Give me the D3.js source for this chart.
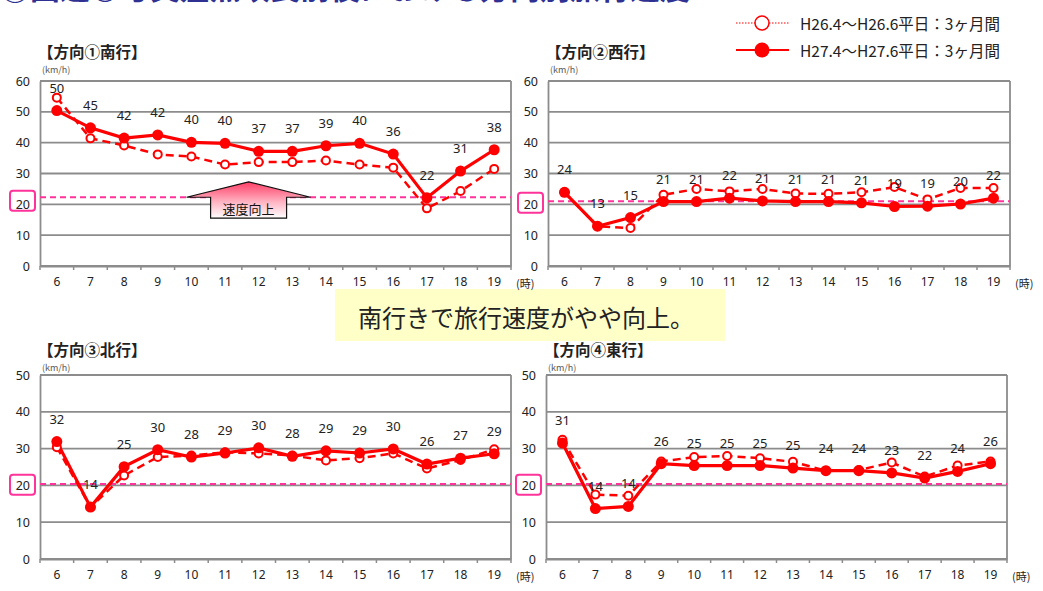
<!DOCTYPE html>
<html>
<head>
<meta charset="utf-8">
<script src="https://cdn.jsdelivr.net/npm/d3@7"></script>
<style>
  body { margin: 0; background: #fff; }
  text { font-family: "Noto Sans CJK JP", "Noto Sans", sans-serif; }
</style>
</head>
<body>
<script>
// Hours on the x axis
const hours = [6, 7, 8, 9, 10, 11, 12, 13, 14, 15, 16, 17, 18, 19];

// Direction 1 (south)
const southOld = [54.6, 41.4, 39.1, 36.2, 35.5, 32.9, 33.7, 33.7, 34.2, 32.9, 31.9, 18.7, 24.3, 31.5];
const southNew = [50.4, 44.8, 41.5, 42.5, 40.1, 39.8, 37.2, 37.2, 39.0, 39.8, 36.3, 22.1, 30.8, 37.7];
const southLabels = [50, 45, 42, 42, 40, 40, 37, 37, 39, 40, 36, 22, 31, 38];

// Direction 2 (west)
const westOld = [23.9, 12.9, 12.3, 23.1, 25.0, 24.2, 25.0, 23.5, 23.4, 23.9, 25.6, 21.6, 25.3, 25.3];
const westNew = [23.9, 12.9, 15.7, 20.9, 20.9, 22.0, 21.1, 20.9, 20.9, 20.5, 19.3, 19.4, 20.1, 22.0];
const westLabels = [24, 13, 15, 21, 21, 22, 21, 21, 21, 21, 19, 19, 20, 22];

// Direction 3 (north)
const northOld = [30.4, 14.1, 22.7, 27.7, 28.1, 29.0, 28.7, 28.1, 26.8, 27.4, 28.7, 24.6, 26.9, 29.8];
const northNew = [31.9, 14.1, 25.1, 29.7, 27.7, 28.8, 30.2, 27.9, 29.4, 28.8, 29.9, 25.8, 27.4, 28.6];
const northLabels = [32, 14, 25, 30, 28, 29, 30, 28, 29, 29, 30, 26, 27, 29];

// Direction 4 (east)
const eastOld = [32.4, 17.5, 17.2, 26.5, 27.7, 28.0, 27.4, 26.4, 24.0, 24.2, 26.2, 22.4, 25.4, 26.5];
const eastNew = [31.5, 13.7, 14.3, 25.9, 25.4, 25.4, 25.4, 24.7, 24.0, 24.0, 23.4, 22.0, 23.8, 25.9];
const eastLabels = [31, 14, 14, 26, 25, 25, 25, 25, 24, 24, 23, 22, 24, 26];

// Pink reference line level per panel, as drawn
const refLevels = [22.3, 21, 20.4, 20.4];

const legendNames = ["H26.4～H26.6平日：3ヶ月間", "H27.4～H27.6平日：3ヶ月間"];
const panelTitles = ["【方向①南行】", "【方向②西行】", "【方向③北行】", "【方向④東行】"];

const red = "#ff0000";
const pink = "#ff3399";
const grid = "#8c8c8c";

const svg = d3.select("body").append("svg")
    .attr("width", 1043)
    .attr("height", 591);

const defs = svg.append("defs");
const grad = defs.append("linearGradient")
    .attr("id", "arrowGrad")
    .attr("x1", 0).attr("y1", 0).attr("x2", 0).attr("y2", 1);
grad.append("stop").attr("offset", "0%").attr("stop-color", "#ff3d66");
grad.append("stop").attr("offset", "55%").attr("stop-color", "#ffb3c2");
grad.append("stop").attr("offset", "100%").attr("stop-color", "#ffffff");

// Page heading, cut off at the top edge of the picture
svg.append("text")
    .attr("x", 0)
    .attr("y", -1)
    .attr("font-size", 30)
    .attr("font-weight", "bold")
    .attr("fill", "#2e3192")
    .text("①国道○号交差点改良前後における方向別旅行速度");

// Legend
const legend = svg.append("g");
legend.append("line")
    .attr("x1", 736).attr("x2", 789).attr("y1", 23).attr("y2", 23)
    .attr("stroke", red).attr("stroke-width", 1).attr("stroke-dasharray", "1.5,1.5");
legend.append("circle")
    .attr("cx", 762).attr("cy", 23).attr("r", 7)
    .attr("fill", "#fff").attr("stroke", red).attr("stroke-width", 1.5);
legend.append("line")
    .attr("x1", 736).attr("x2", 789).attr("y1", 50).attr("y2", 50)
    .attr("stroke", red).attr("stroke-width", 2);
legend.append("circle")
    .attr("cx", 762).attr("cy", 50).attr("r", 7.5)
    .attr("fill", red);
legend.selectAll("text.leg")
    .data(legendNames)
    .join("text")
    .attr("class", "leg")
    .attr("x", 800)
    .attr("y", (d, i) => i === 0 ? 23 : 50)
    .attr("dominant-baseline", "central")
    .attr("font-size", 15.5)
    .attr("fill", "#222")
    .text(d => d);

// Yellow comment box in the middle
svg.append("rect")
    .attr("x", 335).attr("y", 289).attr("width", 390).attr("height", 52)
    .attr("fill", "#ffffc8");
svg.append("text")
    .attr("x", 526).attr("y", 316)
    .attr("text-anchor", "middle")
    .attr("dominant-baseline", "central")
    .attr("font-size", 24)
    .attr("fill", "#222")
    .text("南行きで旅行速度がやや向上。");

function drawPanel(p) {
    const g = svg.append("g");

    const xScale = d3.scaleBand()
        .domain(hours)
        .range([p.left, p.right]);
    const yScale = d3.scaleLinear()
        .domain([0, p.max])
        .range([p.bottom, p.top]);
    const cx = d => xScale(d) + xScale.bandwidth() / 2;
    const yTicks = d3.range(0, p.max + 1, 10);

    // title + unit
    g.append("text")
        .attr("x", p.left - 2).attr("y", p.top - p.titleGap)
        .attr("font-size", 15.5).attr("font-weight", "bold").attr("fill", "#222")
        .text(p.title);
    g.append("text")
        .attr("x", p.left + 2).attr("y", p.top - p.titleGap + 15)
        .attr("font-size", 9).attr("fill", "#555")
        .text("(km/h)");

    // gridlines
    g.selectAll("line.grid")
        .data(yTicks)
        .join("line")
        .attr("class", "grid")
        .attr("x1", p.left).attr("x2", p.right)
        .attr("y1", d => yScale(d)).attr("y2", d => yScale(d))
        .attr("stroke", grid).attr("stroke-width", 1.8);
    g.append("line")
        .attr("x1", p.right).attr("x2", p.right)
        .attr("y1", p.top).attr("y2", p.bottom)
        .attr("stroke", grid).attr("stroke-width", 1.8);

    // y axis
    const yAxis = g.append("g")
        .attr("transform", `translate(${p.left},0)`)
        .call(d3.axisLeft(yScale).tickValues(yTicks).tickSize(0).tickPadding(10));
    yAxis.select(".domain").attr("stroke", grid).attr("stroke-width", 1.8);
    yAxis.selectAll("text")
        .attr("font-size", 12.5).attr("fill", "#222")
        .style("font-family", "'Noto Sans', sans-serif");

    // x axis, ticks between categories
    const xAxis = g.append("g")
        .attr("transform", `translate(0,${p.bottom})`)
        .call(d3.axisBottom(xScale).tickSize(0).tickPadding(11));
    xAxis.select(".domain").attr("stroke", grid).attr("stroke-width", 1.8);
    xAxis.selectAll("text")
        .attr("font-size", 12).attr("fill", "#222")
        .style("font-family", "'Noto Sans', sans-serif");
    g.selectAll("line.xtick")
        .data(hours.concat([null]))
        .join("line")
        .attr("class", "xtick")
        .attr("x1", d => d === null ? p.right : xScale(d))
        .attr("x2", d => d === null ? p.right : xScale(d))
        .attr("y1", p.bottom).attr("y2", p.bottom + 4)
        .attr("stroke", grid).attr("stroke-width", 1.5);
    g.append("text")
        .attr("x", p.right + 5).attr("y", p.bottom + 22)
        .attr("font-size", 11).attr("fill", "#222")
        .text("(時)");

    // pink reference line + box around "20"
    g.append("line")
        .attr("x1", p.left).attr("x2", p.right)
        .attr("y1", yScale(p.ref)).attr("y2", yScale(p.ref))
        .attr("stroke", pink).attr("stroke-width", 2).attr("stroke-dasharray", "6,4");
    const boxMid = (yScale(p.ref) + yScale(20)) / 2;
    g.append("rect")
        .attr("x", p.left - 30).attr("y", boxMid - 10)
        .attr("width", 25).attr("height", 20).attr("rx", 3)
        .attr("fill", "none").attr("stroke", pink).attr("stroke-width", 2);

    if (p.arrow) {
        const ax = xScale(12) + xScale.bandwidth() * 0.2;
        const yb = yScale(p.ref), ya = yScale(27.3), ys = yScale(15.5);
        const pts = [[ax, ya], [ax + 62, yb], [ax + 38, yb], [ax + 38, ys],
                     [ax - 38, ys], [ax - 38, yb], [ax - 62, yb]];
        g.append("path")
            .attr("d", "M" + pts.join("L") + "Z")
            .attr("fill", "url(#arrowGrad)")
            .attr("stroke", "#111").attr("stroke-width", 1.2);
        g.append("text")
            .attr("x", ax).attr("y", (yb + ys) / 2 + 1)
            .attr("text-anchor", "middle").attr("dominant-baseline", "central")
            .attr("font-size", 13).attr("fill", "#111")
            .text("速度向上");
    }

    // last year: dashed with open circles
    const speedLine = d3.line().x((d, i) => cx(hours[i])).y(d => yScale(d));
    g.append("path")
        .datum(p.old)
        .attr("fill", "none")
        .attr("stroke", red).attr("stroke-width", 2.5)
        .attr("stroke-dasharray", "8,5")
        .attr("d", speedLine);

    // this year: solid with filled dots
    g.append("path")
        .datum(p.now)
        .attr("fill", "none")
        .attr("stroke", red).attr("stroke-width", 3.2)
        .attr("d", speedLine);

    g.selectAll("circle.old")
        .data(p.old)
        .join("circle")
        .attr("class", "old")
        .attr("cx", (d, i) => cx(hours[i]))
        .attr("cy", d => yScale(d))
        .attr("r", 4)
        .attr("fill", "#fff").attr("stroke", red).attr("stroke-width", 2);

    g.selectAll("circle.now")
        .data(p.now)
        .join("circle")
        .attr("class", "now")
        .attr("cx", (d, i) => cx(hours[i]))
        .attr("cy", d => yScale(d))
        .attr("r", 5.5)
        .attr("fill", red);

    g.selectAll("text.lab")
        .data(p.labels)
        .join("text")
        .attr("class", "lab")
        .attr("x", (d, i) => cx(hours[i]))
        .attr("y", (d, i) => yScale(p.now[i]) - 23)
        .attr("text-anchor", "middle")
        .attr("dominant-baseline", "central")
        .attr("font-size", 13).attr("fill", "#222")
        .style("font-family", "'Noto Sans', sans-serif")
        .text(d => d);
}

drawPanel({title: panelTitles[0], left: 40, right: 511, top: 81, bottom: 266, max: 60, titleGap: 23,
           old: southOld, now: southNew, labels: southLabels, ref: refLevels[0], arrow: true});
drawPanel({title: panelTitles[1], left: 548, right: 1010, top: 81, bottom: 266, max: 60, titleGap: 23,
           old: westOld, now: westNew, labels: westLabels, ref: refLevels[1]});
drawPanel({title: panelTitles[2], left: 40, right: 511, top: 375, bottom: 559, max: 50, titleGap: 19,
           old: northOld, now: northNew, labels: northLabels, ref: refLevels[2]});
drawPanel({title: panelTitles[3], left: 546, right: 1007, top: 375, bottom: 559, max: 50, titleGap: 19,
           old: eastOld, now: eastNew, labels: eastLabels, ref: refLevels[3]});
</script>
</body>
</html>
